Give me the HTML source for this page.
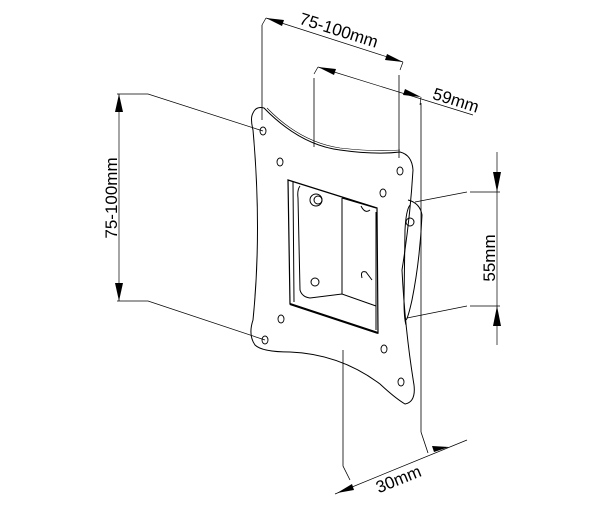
<!DOCTYPE html>
<html><head><style>html,body{margin:0;padding:0;background:#fff;width:601px;height:511px;overflow:hidden}</style></head>
<body>
<svg width="601" height="511" viewBox="0 0 601 511" xmlns="http://www.w3.org/2000/svg" font-family="Liberation Sans, sans-serif">
<g fill="none" stroke="#000" stroke-width="1">
<path d="M253,113 Q256,106 264,108 Q300,145 340,150 Q375,155 400,152 Q412,155 413,170 Q410,220 402,270 Q405,330 414,385 Q416,402 405,404 Q395,398 380,384 Q340,354 290,352 Q262,352 255,345 Q248,335 253,320 Q262,230 253,130 Q250,118 253,113 Z"/>
<path d="M267,108 Q300,142 340,148 Q375,152 400,150" stroke-width="0.6"/>
<g stroke-width="0.9">
<ellipse cx="263" cy="131" rx="3" ry="4"/><ellipse cx="280" cy="162" rx="3" ry="4"/>
<ellipse cx="400" cy="171" rx="3" ry="4"/><ellipse cx="383" cy="193" rx="3" ry="4"/>
<ellipse cx="281" cy="319" rx="3" ry="4"/><ellipse cx="265" cy="340" rx="3" ry="4"/>
<ellipse cx="384" cy="349" rx="3" ry="4"/><ellipse cx="401" cy="382" rx="3" ry="4"/>
</g>
<path d="M288,180 L377,208 L378,333 L290,304 Z" stroke-width="1.2"/>
<path d="M293,182 L294,302 M376,212 L376,330"/>
<path d="M300,186 Q297,190 298,198 L300,290 Q302,297 310,298 L342,294 L376,306"/>
<path d="M342,198 L342,294 M342,198 L376,208"/>
<path d="M290,304 L378,333" stroke-width="2"/>
<circle cx="316" cy="200" r="6"/><circle cx="318" cy="200" r="4"/>
<circle cx="315" cy="282" r="4"/>
<path d="M361,206 Q365,214 370,210 M362,278 Q360,270 366,272 L372,280"/>
<path d="M408,200 Q420,203 422,215 Q420,260 412,300 Q408,318 406,320"/>
<path d="M410,205 Q406,210 405,230 L404,300 Q404,318 406,325"/>
<circle cx="410" cy="222" r="4"/>
<path d="M421,103 L421,432 M262,25 L262,120 M399,75 L399,158 M314,78 L314,147 M343,350 L343,466 L350,480 M421,432 L428,453" stroke-width="0.8"/>
</g>
<g fill="none" stroke="#000" stroke-width="0.7">
<path d="M266,18 L403,62 M266,18 L262,25 M403,62 L400,70"/>
<path d="M318,67 L473,115 M318,67 L314,74 M421,97 L420,105"/>
<path d="M117,94 L148,94 L263,131 M117,301 L148,301 L265,340 M119,94 L119,301"/>
<path d="M497,152 L497,345 M470,192 L500,192 M467,192 L415,202 M470,306 L500,306 M467,306 L407,318"/>
<path d="M335,494 L467,440"/>
</g>
<g fill="#000">
<polygon points="266,18 284,20 282,26"/><polygon points="403,62 385,60 387,54"/>
<polygon points="318,67 336,69 334,75"/><polygon points="421,97 403,95 405,89"/>
<polygon points="119,94 115,112 123,112"/><polygon points="119,301 115,283 123,283"/>
<polygon points="497,192 493,172 501,172"/><polygon points="497,306 493,326 501,326"/>
<polygon points="337,493 352,484 354,490"/><polygon points="449,447 434,452 432,446"/>
</g>
<g font-size="17" fill="#000">
<text x="339" y="36" text-anchor="middle" transform="rotate(17.5 339 30)">75-100mm</text>
<text x="456" y="106" text-anchor="middle" transform="rotate(17.5 456 100)">59mm</text>
<text x="0" y="0" text-anchor="middle" transform="translate(117,198) rotate(-90)">75-100mm</text>
<text x="0" y="0" text-anchor="middle" transform="translate(495,258) rotate(-90)">55mm</text>
<text x="398" y="485" text-anchor="middle" transform="rotate(-22 398 478)">30mm</text>
</g>
</svg>
</body></html>
